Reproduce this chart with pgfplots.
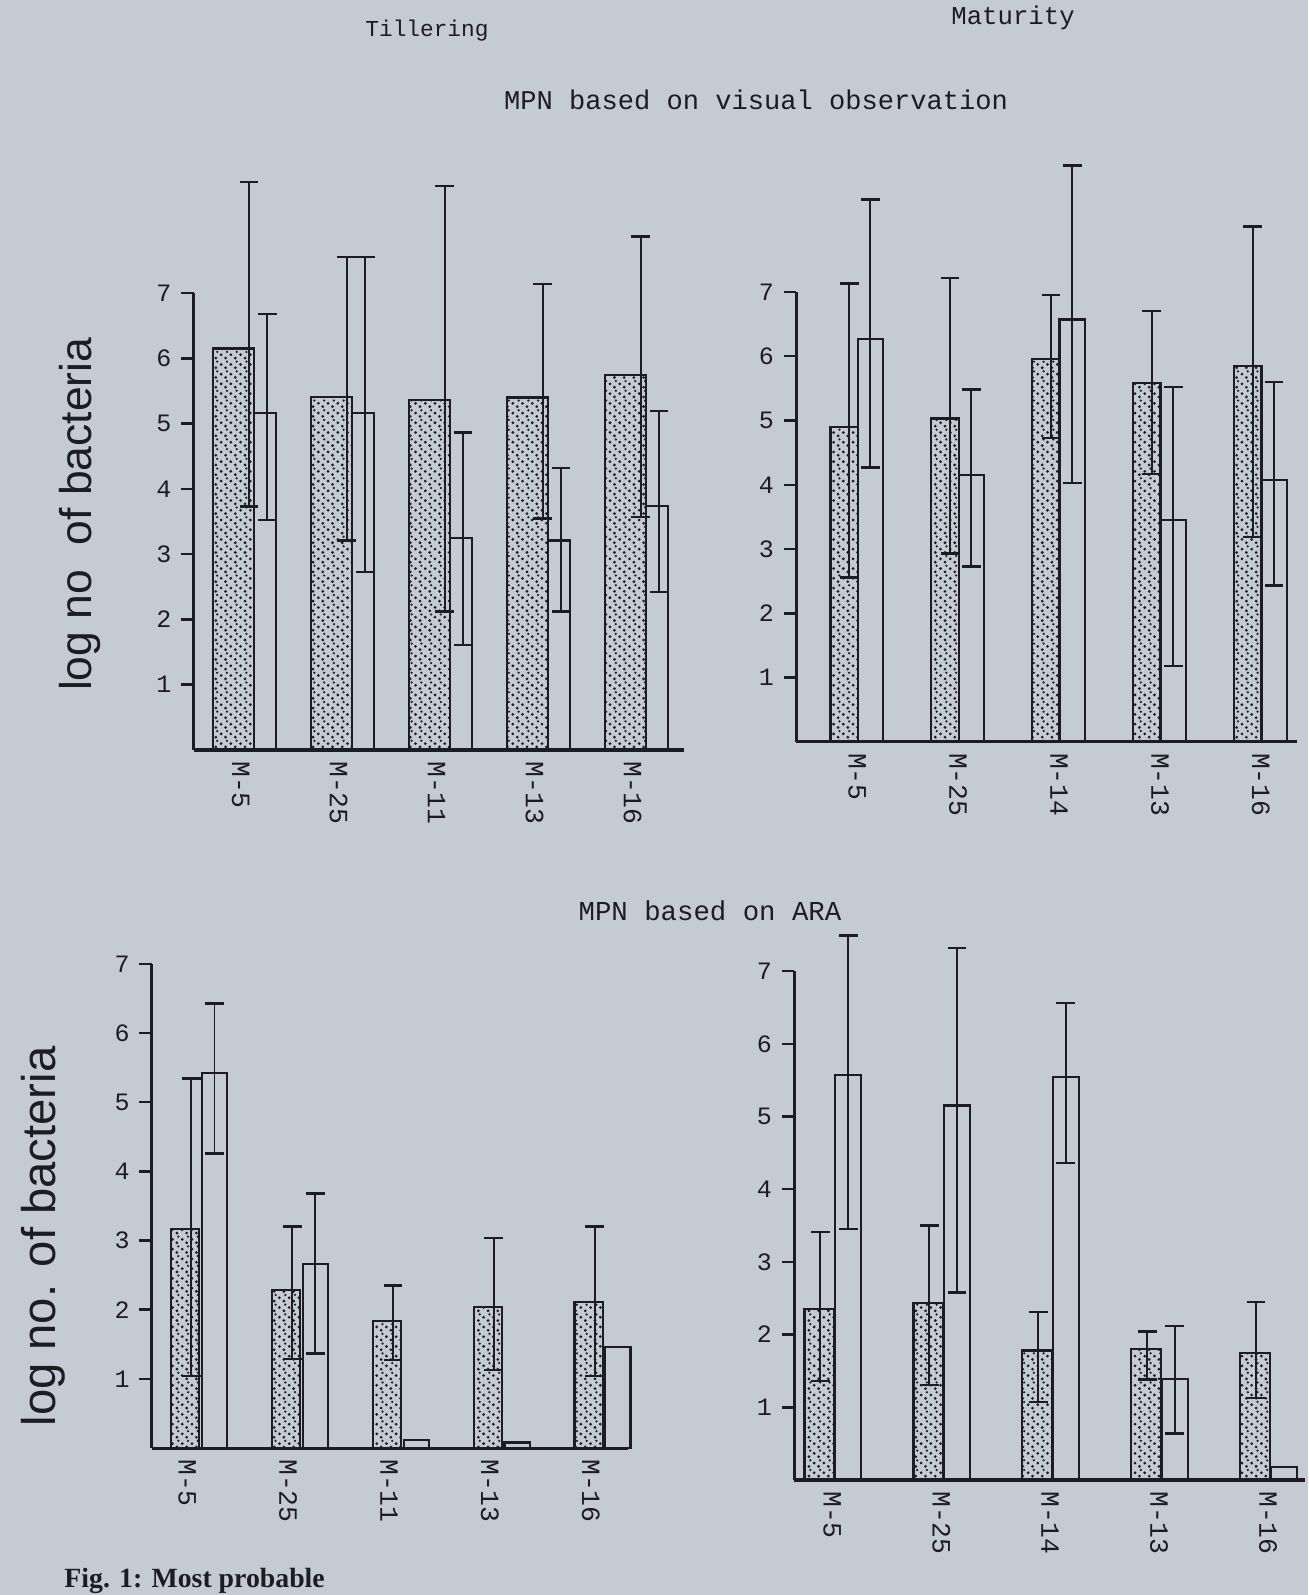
\documentclass[border=0pt]{standalone}
\usepackage{fontspec}
\setmainfont{Liberation Mono}
\newfontfamily\labelfont{Liberation Sans}
\newfontfamily\capfont{Liberation Serif}
\usepackage{pgfplots}
\usepackage{pgfplotstable}
\pgfplotsset{compat=1.18}
\usetikzlibrary{patterns}

\definecolor{paper}{RGB}{197,203,213}
\definecolor{ink}{RGB}{28,28,34}

% sparse stipple for the shaded bars
\pgfdeclarepatternformonly{stipple}{\pgfpoint{-0.7pt}{-0.7pt}}{\pgfpoint{4.2pt}{4.2pt}}{\pgfpoint{3.5pt}{3.5pt}}{%
  \pgfpathcircle{\pgfpoint{0.7pt}{0.8pt}}{0.55pt}%
  \pgfpathcircle{\pgfpoint{2.6pt}{2.0pt}}{0.55pt}%
  \pgfpathcircle{\pgfpoint{1.2pt}{3.0pt}}{0.45pt}%
  \pgfusepath{fill}%
}

% columns: dotted bar, its errors (+/-), open bar, its errors (+/-)
\pgfplotstableread{
x dot dotp dotm open openp openm
0 6.15 2.55 2.42 5.16 1.52 1.64
1 5.41 2.14 2.20 5.16 2.39 2.43
2 5.36 3.28 3.24 3.25 1.61 1.64
3 5.40 1.74 1.85 3.21 1.11 1.09
4 5.75 2.12 2.18 3.74 1.45 1.32
}\tilvis
\pgfplotstableread{
x dot dotp dotm open openp openm
0 4.90 2.23 2.34 6.27 2.17 2.00
1 5.03 2.19 2.10 4.15 1.33 1.42
2 5.96 0.99 1.23 6.57 2.40 2.54
3 5.58 1.12 1.41 3.45 2.07 2.27
4 5.85 2.17 2.66 4.08 1.52 1.65
}\matvis
\pgfplotstableread{
x dot dotp dotm open openp openm
0 3.17 2.17 2.13 5.42 1.01 1.16
1 2.28 0.92 0.99 2.66 1.02 1.29
2 1.84 0.51 0.57 0.12 0 0
3 2.04 1.00 0.91 0.08 0 0
4 2.11 1.09 1.07 1.46 0 0
}\tilara
\pgfplotstableread{
x dot dotp dotm open openp openm
0 2.35 1.06 0.99 5.57 1.92 2.12
1 2.43 1.07 1.12 5.15 2.17 2.57
2 1.78 0.53 0.71 5.54 1.02 1.18
3 1.80 0.24 0.42 1.39 0.73 0.75
4 1.75 0.70 0.62 0.18 0 0
}\matara

\pgfplotsset{
  panel/.style={
    scale only axis,
    axis lines*=left,
    clip=false,
    ymin=0, ymax=7,
    ytick={1,...,7},
    tick align=outside,
    major tick length=4.5pt,
    x tick style={draw=none},
    xticklabel shift=-4pt,
    tick label style={font=\fontsize{9}{9}\selectfont, text=ink},
    x tick label style={rotate=-90, anchor=west, font=\fontsize{9.5}{10}\selectfont},
    /pgf/number format/assume math mode=true,
    axis line style={draw=ink, line width=1.1pt},
    y tick style={draw=ink, line width=0.9pt},
    ylabel style={font=\labelfont\fontsize{16}{16}\selectfont, text=ink},
  },
  dotbar/.style={ybar, bar shift=0pt, draw=ink, line width=0.8pt,
    pattern=stipple, pattern color=ink},
  openbar/.style={ybar, bar shift=0pt, draw=ink, line width=0.8pt, fill=none},
  errs/.style={forget plot, draw=none, mark=none,
    error bars/.cd, y dir=both, y explicit,
    error bar style={draw=ink, line width=0.7pt, solid},
    error mark options={rotate=90, draw=ink, line width=0.9pt, mark size=3.4pt}},
}

\begin{document}
\begin{tikzpicture}
\useasboundingbox (0,0) rectangle (470.88pt,574.2pt);
\fill[paper] (0,0) rectangle (470.88pt,574.2pt);

% Tillering, visual observation
\begin{axis}[panel, at={(69.7pt,304.2pt)}, anchor=south west,
  width=176.7pt, height=164.5pt, xmin=-0.41, xmax=4.60,
  xtick={0.07,1.07,2.07,3.07,4.07},
  xticklabels={M-5,M-25,M-11,M-13,M-16},
  ylabel={log no\ \ of bacteria},
  ylabel style={at={(axis description cs:-0.232,0.516)}, anchor=center}]
\addplot[dotbar, bar width=0.42] table[x=x, y=dot]{\tilvis};
\addplot[openbar, bar width=0.22] table[x expr=\thisrow{x}+0.32, y=open]{\tilvis};
\addplot[errs] table[x expr=\thisrow{x}+0.155, y=dot, y error plus=dotp, y error minus=dotm]{\tilvis};
\addplot[errs] table[x expr=\thisrow{x}+0.34, y=open, y error plus=openp, y error minus=openm]{\tilvis};
\end{axis}

% Maturity, visual observation
\begin{axis}[panel, at={(286.6pt,307.1pt)}, anchor=south west,
  width=180.4pt, height=162pt, xmin=-0.475, xmax=4.49,
  xtick={0.13,1.13,2.13,3.13,4.13},
  xticklabels={M-5,M-25,M-14,M-13,M-16}]
\addplot[dotbar, bar width=0.27] table[x=x, y=dot]{\matvis};
\addplot[openbar, bar width=0.25] table[x expr=\thisrow{x}+0.26, y=open]{\matvis};
\addplot[errs] table[x expr=\thisrow{x}+0.05, y=dot, y error plus=dotp, y error minus=dotm]{\matvis};
\addplot[errs] table[x expr=\thisrow{x}+0.26, y=open, y error plus=openp, y error minus=openm]{\matvis};
\end{axis}

% Tillering, ARA
\begin{axis}[panel, at={(54.7pt,52.9pt)}, anchor=south west,
  width=171.4pt, height=174.3pt, xmin=-0.33, xmax=4.39,
  xtick={0.02,1.02,2.02,3.02,4.02},
  xticklabels={M-5,M-25,M-11,M-13,M-16},
  ylabel={log no. of bacteria},
  ylabel style={at={(axis description cs:-0.229,0.437)}, anchor=center,
    font=\labelfont\fontsize{17}{17}\selectfont}]
\addplot[dotbar, bar width=0.28] table[x=x, y=dot]{\tilara};
\addplot[openbar, bar width=0.25] table[x expr=\thisrow{x}+0.29, y=open]{\tilara};
\addplot[errs] table[x expr=\thisrow{x}+0.06, y=dot, y error plus=dotp, y error minus=dotm]{\tilara};
\addplot[errs] table[x expr=\thisrow{x}+0.29, y=open, y error plus=openp, y error minus=openm]{\tilara};
\end{axis}

% Maturity, ARA
\begin{axis}[panel, at={(285.9pt,41.4pt)}, anchor=south west,
  width=183.9pt, height=183.2pt, xmin=-0.23, xmax=4.46,
  xtick={0.12,1.12,2.12,3.12,4.12},
  xticklabels={M-5,M-25,M-14,M-13,M-16}]
\addplot[dotbar, bar width=0.27] table[x=x, y=dot]{\matara};
\addplot[openbar, bar width=0.24] table[x expr=\thisrow{x}+0.265, y=open]{\matara};
\addplot[errs] table[x expr=\thisrow{x}+0.01, y=dot, y error plus=dotp, y error minus=dotm]{\matara};
\addplot[errs] table[x expr=\thisrow{x}+0.265, y=open, y error plus=openp, y error minus=openm]{\matara};
\end{axis}

\node[text=ink, font=\fontsize{8.2}{8.2}\selectfont] at (153.7pt,563pt) {Tillering};
\node[text=ink, font=\fontsize{9.25}{9.25}\selectfont] at (364.7pt,567.7pt) {Maturity};
\node[text=ink, font=\fontsize{9.75}{9.75}\selectfont] at (272.2pt,538.2pt) {MPN based on visual observation};
\node[text=ink, font=\fontsize{9.85}{9.85}\selectfont] at (255.6pt,246.2pt) {MPN based on ARA};
% caption at the lower edge of the photo
\node[text=ink, anchor=base west, inner sep=0pt, font=\capfont\bfseries\fontsize{10}{10}\selectfont] at (23pt,2.8pt) {Fig. 1: Most probable};
\end{tikzpicture}
\end{document}
